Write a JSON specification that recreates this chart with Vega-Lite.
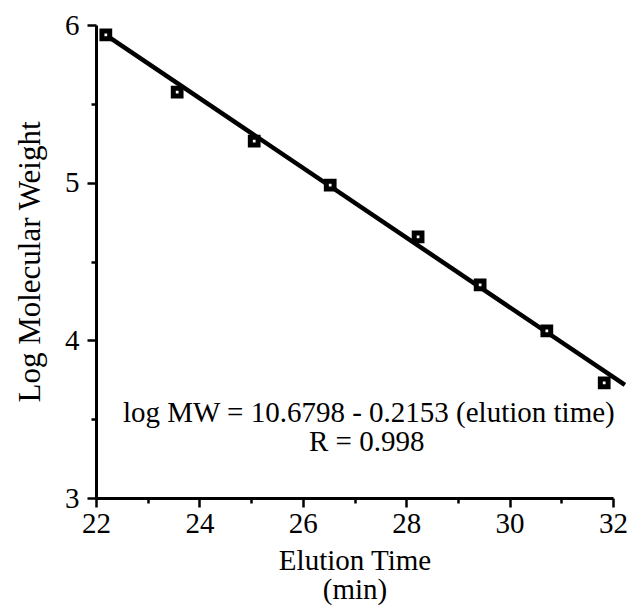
{
  "$schema": "https://vega.github.io/schema/vega-lite/v6.json",
  "autosize": "none",
  "width": 517,
  "height": 473,
  "padding": {"left": 96, "top": 25, "right": 31, "bottom": 108},
  "background": "white",
  "config": {
    "view": {"stroke": null},
    "font": "Liberation Serif",
    "axis": {
      "grid": false,
      "domainColor": "black",
      "domainWidth": 3,
      "tickColor": "black",
      "tickWidth": 2.5,
      "labelColor": "black",
      "titleColor": "black",
      "labelFont": "Liberation Serif",
      "titleFont": "Liberation Serif",
      "labelFontSize": 29,
      "titleFontSize": 29,
      "titleFontWeight": "normal"
    }
  },
  "datasets": {
    "points": [
      {"time": 22.19, "logmw": 5.937},
      {"time": 23.57, "logmw": 5.575},
      {"time": 25.06, "logmw": 5.264},
      {"time": 26.53, "logmw": 4.985},
      {"time": 28.23, "logmw": 4.656},
      {"time": 29.43, "logmw": 4.351},
      {"time": 30.72, "logmw": 4.060},
      {"time": 31.83, "logmw": 3.730}
    ],
    "fit": [
      {"time": 22.13, "logmw": 5.95},
      {"time": 32.23, "logmw": 3.717}
    ],
    "notes": [
      {"time": 22.52, "logmw": 3.485, "note": "log MW = 10.6798 - 0.2153 (elution time)"},
      {"time": 26.12, "logmw": 3.298, "note": "R = 0.998"}
    ]
  },
  "layer": [
    {
      "data": {"name": "fit"},
      "mark": {"type": "line", "color": "black", "strokeWidth": 4.5, "clip": false},
      "encoding": {
        "x": {
          "field": "time", "type": "quantitative",
          "scale": {"domain": [22, 32], "nice": false, "zero": false},
          "axis": {
            "title": ["Elution Time", "(min)"],
            "values": [22, 23, 24, 25, 26, 27, 28, 29, 30, 31, 32],
            "labelExpr": "datum.value % 2 === 0 ? format(datum.value, 'd') : ''",
            "tickSize": {"condition": {"test": "datum.value % 2 === 0", "value": 9}, "value": 5},
            "labelPadding": 2,
            "titlePadding": 8,
            "titleLineHeight": 29,
            "labelFlush": false
          }
        },
        "y": {
          "field": "logmw", "type": "quantitative",
          "scale": {"domain": [3, 6], "nice": false, "zero": false},
          "axis": {
            "title": "Log Molecular Weight",
            "titleFontSize": 31,
            "values": [3, 3.5, 4, 4.5, 5, 5.5, 6],
            "labelExpr": "datum.value % 1 === 0 ? format(datum.value, 'd') : ''",
            "tickSize": {"condition": {"test": "datum.value % 1 === 0", "value": 9}, "value": 5},
            "labelPadding": 8,
            "titlePadding": 18,
            "labelFlush": false
          }
        }
      }
    },
    {
      "data": {"name": "points"},
      "mark": {"type": "point", "shape": "square", "size": 60, "stroke": "black", "strokeWidth": 5, "fill": "white", "filled": false, "opacity": 1},
      "encoding": {
        "x": {"field": "time", "type": "quantitative"},
        "y": {"field": "logmw", "type": "quantitative"}
      }
    },
    {
      "data": {"name": "notes"},
      "mark": {"type": "text", "align": "left", "baseline": "alphabetic", "fontSize": 29, "font": "Liberation Serif", "color": "black"},
      "encoding": {
        "x": {"field": "time", "type": "quantitative"},
        "y": {"field": "logmw", "type": "quantitative"},
        "text": {"field": "note"}
      }
    }
  ]
}
